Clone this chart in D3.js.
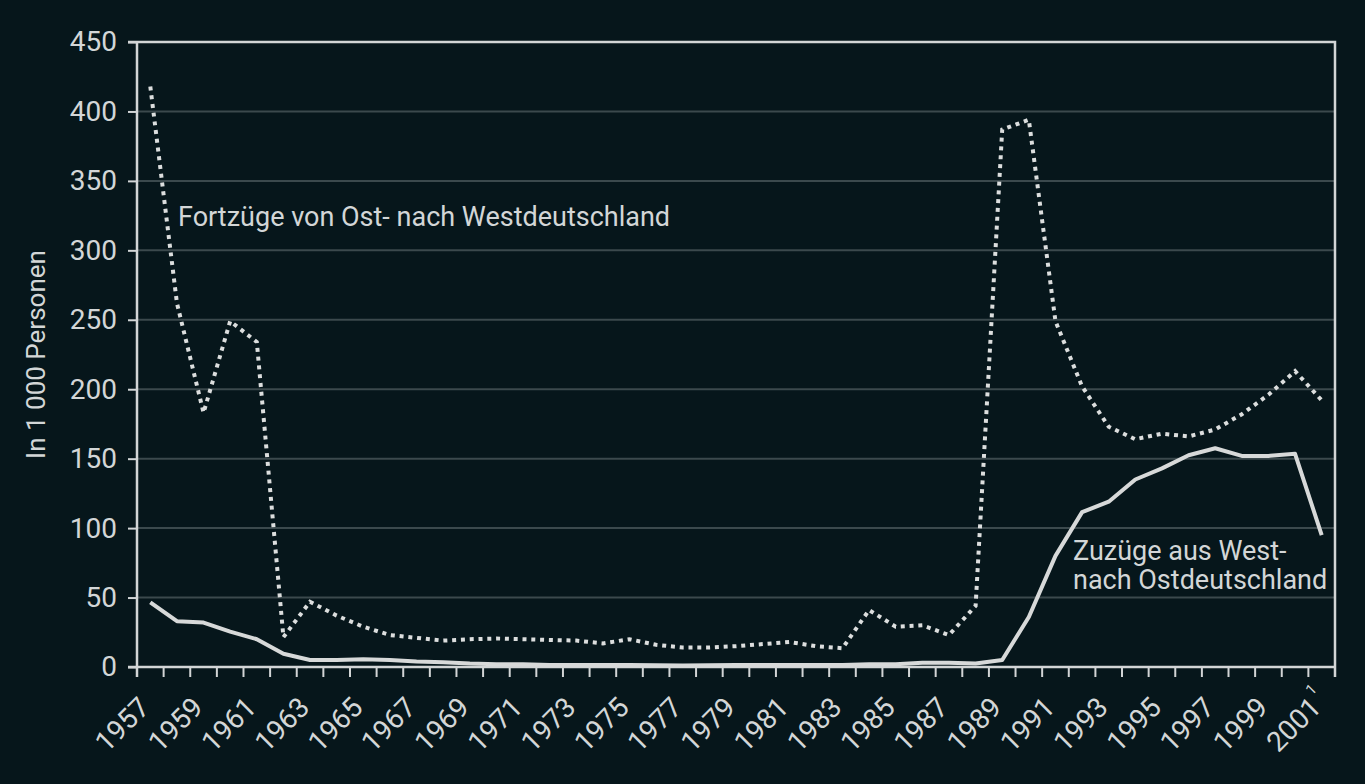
<!DOCTYPE html>
<html>
<head>
<meta charset="utf-8">
<script src="https://cdn.jsdelivr.net/npm/d3@7"></script>
<style>
  html, body { margin: 0; padding: 0; background: #06161b; }
  svg { display: block; font-family: Roboto, "Noto Sans", sans-serif; }
</style>
</head>
<body>
<svg id="chart"></svg>
<script>
// years on the x axis
const years = [1957, 1958, 1959, 1960, 1961, 1962, 1963, 1964, 1965, 1966,
  1967, 1968, 1969, 1970, 1971, 1972, 1973, 1974, 1975, 1976,
  1977, 1978, 1979, 1980, 1981, 1982, 1983, 1984, 1985, 1986,
  1987, 1988, 1989, 1990, 1991, 1992, 1993, 1994, 1995, 1996,
  1997, 1998, 1999, 2000, 2001]

// Fortzüge von Ost- nach Westdeutschland (1000 Personen), dotted
const fortzuege = [418, 262, 183, 249, 234, 21.5, 47, 37, 29, 23,
  21, 19, 20, 20.5, 20, 19.5, 19, 17, 20, 16,
  14, 14, 15, 16.5, 18, 15, 13.5, 41, 29, 30,
  23, 44, 387, 394, 249, 202, 173, 164, 168, 166,
  171, 182, 196, 213, 192]

// Zuzüge aus West- nach Ostdeutschland (1000 Personen), solid
const zuzuege = [46.5, 33, 32, 25.5, 20, 9.5, 5, 5, 5.5, 5,
  4, 3.5, 2.5, 2, 2, 1.5, 1.5, 1.5, 1.5, 1.3,
  1, 1.2, 1.5, 1.5, 1.5, 1.5, 1.5, 2, 2, 3,
  3, 2.5, 5, 36, 80, 111.5, 119, 135, 143, 152.5,
  157.5, 152, 152, 153.5, 95]

const yTicks = [0, 50, 100, 150, 200, 250, 300, 350, 400, 450]
const xLabelYears = years.filter(y => (y - 1957) % 2 === 0)

const width = 1365, height = 784
const margin = { top: 42, right: 30, bottom: 117, left: 137 }
const innerW = width - margin.left - margin.right
const innerH = height - margin.top - margin.bottom

const frameColor = "#d2d5d6"
const gridColor = "#3b494d"
const textColor = "#d3d6d7"

const svg = d3.select("#chart")
  .attr("width", width)
  .attr("height", height)

svg.append("rect")
  .attr("width", width).attr("height", height)
  .attr("fill", "#06161b")

const g = svg.append("g")
  .attr("transform", `translate(${margin.left}, ${margin.top})`)

const x = d3.scaleBand().domain(years).range([0, innerW])
const y = d3.scaleLinear().domain([0, 450]).range([innerH, 0])
const cx = d => x(d) + x.bandwidth() / 2

// gridlines
g.append("g")
  .selectAll("line")
  .data(yTicks.filter(t => t > 0 && t < 450))
  .join("line")
  .attr("x1", 0).attr("x2", innerW)
  .attr("y1", d => y(d)).attr("y2", d => y(d))
  .attr("stroke", gridColor)
  .attr("stroke-width", 2)

// y axis
const yAxis = g.append("g")
  .call(d3.axisLeft(y).tickValues(yTicks).tickSize(9).tickPadding(11))
yAxis.select(".domain").remove()
yAxis.selectAll("line").attr("stroke", frameColor).attr("stroke-width", 2)
yAxis.selectAll("text")
  .attr("fill", textColor)
  .attr("font-size", 28)
  .attr("font-family", "Roboto")

// x axis: ticks at band boundaries
const xAxisG = g.append("g").attr("transform", `translate(0, ${innerH})`)
xAxisG.selectAll("line.tick")
  .data(years.concat(["end"]))
  .join("line")
  .attr("class", "tick")
  .attr("x1", d => d === "end" ? innerW : x(d))
  .attr("x2", d => d === "end" ? innerW : x(d))
  .attr("y1", 0).attr("y2", 10)
  .attr("stroke", frameColor)
  .attr("stroke-width", 2)

xAxisG.selectAll("text.lbl")
  .data(xLabelYears)
  .join("text")
  .attr("class", "lbl")
  .attr("transform", d => `translate(${cx(d) + 1}, 42) rotate(-45)`)
  .attr("text-anchor", "end")
  .attr("fill", textColor)
  .attr("font-size", 28)
  .text(d => d)

// footnote marker on 2001
xAxisG.append("text")
  .attr("transform", `translate(${cx(2001) - 10}, 29) rotate(-45)`)
  .attr("fill", textColor)
  .attr("font-size", 15)
  .text("1")

// frame
g.append("path")
  .attr("d", `M-9,0H${innerW}V${innerH + 10}M0,0V${innerH + 10}M-9,${innerH}H${innerW}`)
  .attr("fill", "none")
  .attr("stroke", frameColor)
  .attr("stroke-width", 2.5)

// lines
const line = d3.line()
  .x((d, i) => cx(years[i]))
  .y(d => y(d))

g.append("path")
  .datum(zuzuege)
  .attr("d", line)
  .attr("fill", "none")
  .attr("stroke", "#d7d9d9")
  .attr("stroke-width", 4)
  .attr("stroke-linejoin", "round")

g.append("path")
  .datum(fortzuege)
  .attr("d", line)
  .attr("fill", "none")
  .attr("stroke", "#dcdede")
  .attr("stroke-width", 4)
  .attr("stroke-dasharray", "4,4.8")

// annotations
g.append("text")
  .attr("x", 178 - margin.left).attr("y", 226 - margin.top)
  .attr("fill", textColor)
  .attr("font-size", 27)
  .text("Fortzüge von Ost- nach Westdeutschland")

const ann = g.append("text")
  .attr("fill", textColor)
  .attr("font-size", 27)
ann.append("tspan").attr("x", 1073 - margin.left).attr("y", 560 - margin.top).text("Zuzüge aus West-")
ann.append("tspan").attr("x", 1073 - margin.left).attr("y", 589 - margin.top).text("nach Ostdeutschland")

// y axis title
svg.append("text")
  .attr("transform", `translate(45, ${margin.top + innerH / 2}) rotate(-90)`)
  .attr("text-anchor", "middle")
  .attr("fill", textColor)
  .attr("font-size", 26)
  .text("In 1 000 Personen")
</script>
</body>
</html>
